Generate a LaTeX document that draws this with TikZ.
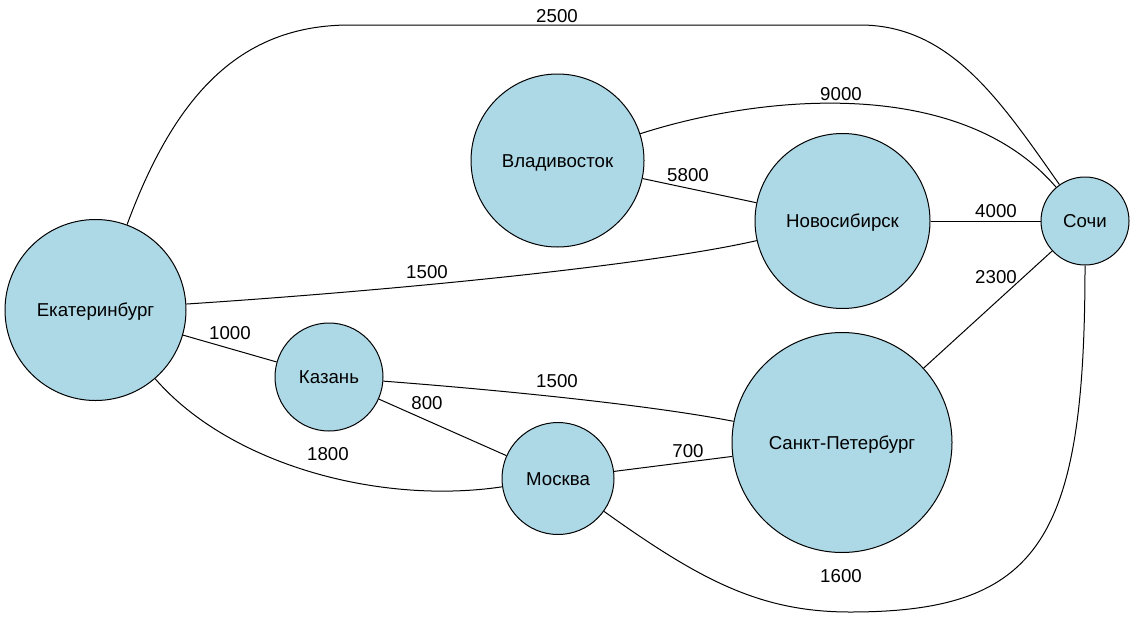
\documentclass[tikz,border=0pt]{standalone}
\usepackage{fontspec}
\setmainfont{Liberation Sans}
\definecolor{cityfill}{RGB}{173,216,230}
\begin{document}
\begin{tikzpicture}[x=1pt,y=-1pt,
  city/.style={circle,draw=black,line width=1pt,fill=cityfill,inner sep=0pt,
    text height=13.4pt,text depth=0pt,
    font=\fontsize{18.67pt}{22pt}\selectfont},
  lbl/.style={inner sep=0pt,font=\fontsize{18.67pt}{22pt}\selectfont},
  edge/.style={draw=black,line width=1pt}]
\useasboundingbox (0,0) rectangle (1131,621);
% nodes
\node[city,minimum size=181pt] (ekb) at (95.5,310) {Екатеринбург};
\node[city,minimum size=173pt] (vla) at (557.5,160.5) {Владивосток};
\node[city,minimum size=175pt] (nov) at (842.5,221) {Новосибирск};
\node[city,minimum size=88pt] (soc) at (1085,221) {Сочи};
\node[city,minimum size=108pt] (kaz) at (329,377) {Казань};
\node[city,minimum size=112pt] (mos) at (558,478.5) {Москва};
\node[city,minimum size=220pt] (spb) at (842,442.5) {Санкт-Петербург};
% edges
\draw[edge] (ekb) .. controls (175,95) and (240,25) .. (350,25) -- (860,25) .. controls (950,25) and (1000,100) .. (soc);
\draw[edge] (vla) .. controls (760,95) and (960,75) .. (soc);
\draw[edge] (vla) -- (nov);
\draw[edge] (nov) -- (soc);
\draw[edge] (ekb) .. controls (400,290) and (650,265) .. (nov);
\draw[edge] (ekb) -- (kaz);
\draw[edge] (kaz) .. controls (500,390) and (650,405) .. (spb);
\draw[edge] (kaz) -- (mos);
\draw[edge] (ekb) .. controls (230,465) and (380,505) .. (mos);
\draw[edge] (mos) -- (spb);
\draw[edge] (spb) -- (soc);
\draw[edge] (mos) .. controls (700,580) and (760,612) .. (850,612) .. controls (1040,612) and (1085,540) .. (soc);
% labels
\node[lbl] (l2500) at (557,16) {2500};
\node[lbl] (l9000) at (841,94) {9000};
\node[lbl] (l5800) at (688,175) {5800};
\node[lbl] (l4000) at (996,211) {4000};
\node[lbl] (l1500a) at (427,272) {1500};
\node[lbl] (l2300) at (996,277) {2300};
\node[lbl] (l1000) at (230,333) {1000};
\node[lbl] (l1500b) at (557,381) {1500};
\node[lbl] (l800) at (427,403) {800};
\node[lbl] (l1800) at (328,454) {1800};
\node[lbl] (l700) at (688,451) {700};
\node[lbl] (l1600) at (841,576) {1600};
\end{tikzpicture}
\end{document}
